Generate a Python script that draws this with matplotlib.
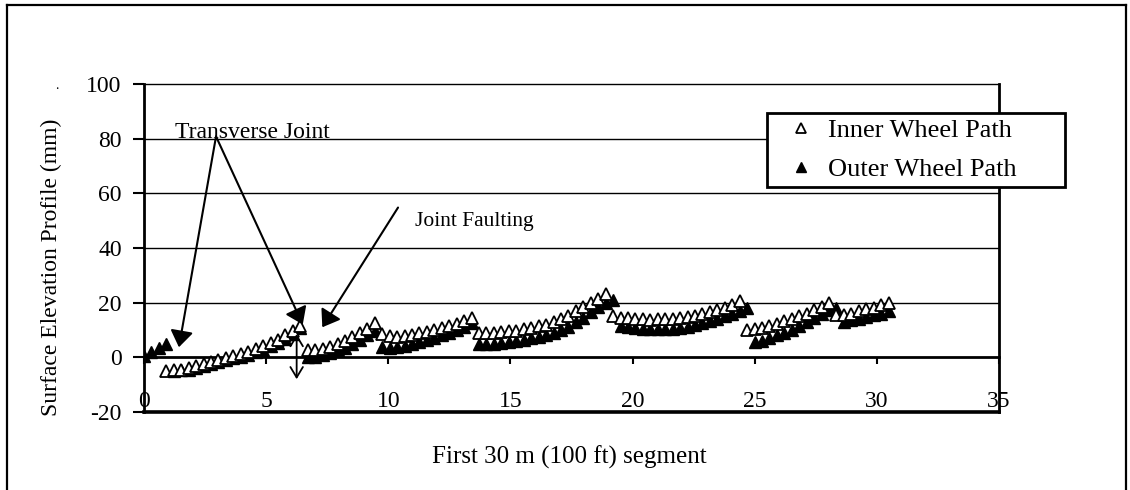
import matplotlib
matplotlib.use("Agg")
import matplotlib.pyplot as plt
import numpy as np
from matplotlib.lines import Line2D

plt.rcParams['font.family'] = ['Liberation Serif', 'DejaVu Serif']

# Survey stations at 1 ft spacing, converted to metres
FT = 0.3048
outer_station_ft = np.arange(0, 101)
inner_station_ft = np.arange(3, 101)

# Surface elevation (mm) along the outer wheel path
outer_mm = [
    0.5, 2.0, 3.5, 5.0,
    -5.0, -4.8, -4.5, -4.0, -3.2, -2.5, -1.8, -1.0, -0.3, 0.3, 1.0, 1.8, 2.8, 4.0, 5.2, 6.8, 8.5, 10.8,
    0.0, 0.3, 0.8, 1.5, 2.5, 3.5, 5.0, 6.5, 8.0, 9.5,
    3.8, 3.5, 3.8, 4.2, 4.8, 5.5, 6.2, 7.0, 8.0, 9.0, 10.0, 11.2, 12.5,
    5.0, 4.8, 5.0, 5.3, 5.5, 6.0, 6.5, 7.0, 7.6, 8.2, 9.0, 10.0, 11.2, 12.8, 14.5, 16.5, 18.5, 20.0, 21.0,
    11.5, 11.0, 10.8, 10.5, 10.5, 10.3, 10.5, 10.5, 10.8, 11.2, 11.8, 12.5, 13.2, 14.0, 15.0, 16.0, 17.0, 18.0,
    5.5, 6.0, 7.0, 8.0, 9.0, 10.0, 11.5, 13.0, 14.5, 16.0, 17.2, 18.0,
    13.0, 13.5, 14.0, 14.8, 15.5, 16.0, 16.8,
]

# Surface elevation (mm) along the inner wheel path
inner_mm = [
    -5.0, -4.8, -4.5, -4.0, -3.2, -2.5, -1.8, -1.0, -0.3, 0.5, 1.2, 2.0, 3.0, 4.0, 5.2, 6.5, 8.0, 9.5, 11.5,
    2.5, 2.8, 3.2, 3.8, 4.8, 6.0, 7.3, 9.0, 10.5, 12.5,
    8.5, 7.8, 7.5, 7.8, 8.2, 8.8, 9.3, 10.0, 10.8, 11.5, 12.3, 13.3, 14.5,
    9.0, 8.8, 9.0, 9.3, 9.5, 9.8, 10.2, 10.8, 11.3, 12.0, 12.8, 14.0, 15.2, 16.8, 18.5, 20.0, 21.5, 23.0,
    15.0, 14.5, 14.3, 14.0, 14.0, 13.8, 14.0, 14.0, 14.2, 14.5, 14.8, 15.3, 15.8, 16.5, 17.3, 18.2, 19.0, 20.5,
    10.0, 10.2, 10.8, 11.5, 12.3, 13.2, 14.0, 15.0, 16.0, 17.2, 18.5, 20.0,
    15.5, 15.5, 16.0, 16.8, 17.5, 18.2, 19.0, 19.8,
]

x_ticks = [0, 5, 10, 15, 20, 25, 30, 35]
y_ticks = [-20, 0, 20, 40, 60, 80, 100]

outer_x = outer_station_ft * FT
inner_x = inner_station_ft * FT

fig = plt.figure(figsize=(11.3, 4.9), dpi=100)
ax = fig.add_axes([0.1274, 0.1592, 0.7567, 0.6694])

ax.set_xlim(0, 35)
ax.set_ylim(-20, 100)

# horizontal gridlines
for g in [20, 40, 60, 80]:
    ax.axhline(g, color='black', lw=1.0, zorder=1)

inner_line, = ax.plot(inner_x, inner_mm, linestyle='none', marker='^', ms=8,
                      mfc='white', mec='black', mew=1.3, zorder=3,
                      label='Inner Wheel Path')
outer_line, = ax.plot(outer_x, outer_mm, linestyle='none', marker='^', ms=8,
                      mfc='black', mec='black', mew=1.0, zorder=2,
                      label='Outer Wheel Path')

# axes and frame
ax.spines['bottom'].set_position(('data', 0))
ax.spines['bottom'].set_linewidth(2)
ax.spines['left'].set_linewidth(2)
ax.spines['right'].set_linewidth(2)
ax.spines['top'].set_linewidth(1)
ax.plot([0, 35], [-20, -20], color='black', lw=2.6, clip_on=False, zorder=5)

ax.set_xticks(x_ticks)
ax.set_xticklabels([str(v) for v in x_ticks])
ax.set_yticks(y_ticks)
ax.set_yticklabels([str(v) for v in y_ticks])
ax.tick_params(axis='x', direction='out', length=5, width=1.5, pad=19, labelsize=17)
ax.tick_params(axis='y', direction='out', length=8, width=1.5, pad=8, labelsize=17)

ax.set_ylabel('Surface Elevation Profile (mm)', fontsize=17)
ax.yaxis.set_label_coords(-0.096, 0.44)
ax.set_xlabel('First 30 m (100 ft) segment', fontsize=18)
ax.xaxis.set_label_coords(0.498, -0.103)

# annotations
ax.text(1.25, 80.4, 'Transverse Joint', fontsize=17, ha='left', va='baseline', zorder=6)
head = dict(arrowstyle='-|>,head_length=0.5,head_width=0.35', mutation_scale=20,
            color='black', lw=1.5, shrinkA=0, shrinkB=0)
ax.annotate('', xy=(1.43, 3.7), xytext=(2.95, 80.8), arrowprops=head, zorder=6)
ax.annotate('', xy=(6.5, 12.0), xytext=(2.95, 80.8), arrowprops=head, zorder=6)
ax.annotate('', xy=(7.3, 11.0), xytext=(10.4, 54.8), arrowprops=head, zorder=6)
ax.text(11.1, 47.9, 'Joint Faulting', fontsize=15.5, ha='left', va='baseline', zorder=6)
ax.annotate('', xy=(6.25, -8.0), xytext=(6.25, 8.5),
            arrowprops=dict(arrowstyle='<->,head_length=0.5,head_width=0.3',
                            mutation_scale=15, color='black', lw=1.3,
                            shrinkA=0, shrinkB=0), zorder=6)

# legend
leg = ax.legend(handles=[inner_line, outer_line], loc='upper left',
                bbox_to_anchor=(767 / 1130, 1 - 113 / 490, 298 / 1130, 0),
                bbox_transform=fig.transFigure, mode='expand', fontsize=19,
                frameon=True, fancybox=False, framealpha=1, edgecolor='black',
                borderpad=0.22, labelspacing=0.58, handletextpad=0.0,
                handlelength=2.1, markerscale=0.9, borderaxespad=0)
leg.get_frame().set_linewidth(2)
leg.set_zorder(10)

# stray mark beside the top tick label
fig.text(57 / 1130, 1 - 89 / 490, '.', fontsize=10, ha='center', va='baseline')

# outer chart border
for xs, ys in [([7, 7], [495, 5]), ([7, 1126], [5, 5]), ([1126, 1126], [5, 495])]:
    fig.add_artist(Line2D([v / 1130 for v in xs], [1 - v / 490 for v in ys],
                          color='black', lw=1.6))

fig.savefig('out.png', dpi=100)
